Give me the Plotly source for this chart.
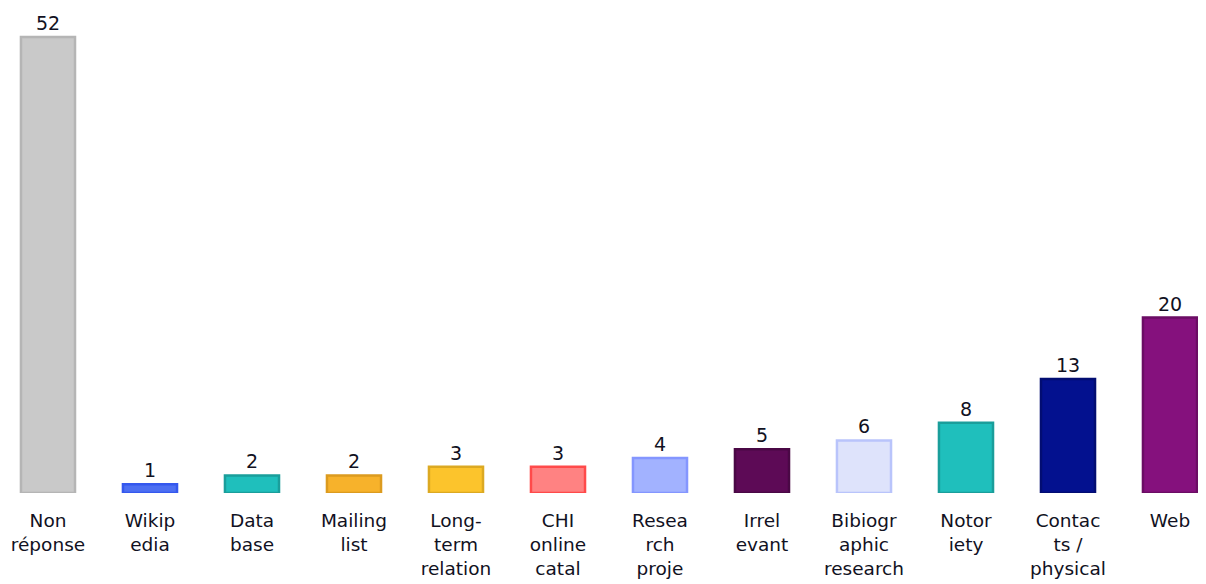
import plotly.graph_objects as go

categories = ["Non<br>réponse", "Wikip<br>edia", "Data<br>base", "Mailing<br>list",
              "Long-<br>term<br>relation", "CHI<br>online<br>catal", "Resea<br>rch<br>proje",
              "Irrel<br>evant", "Bibiogr<br>aphic<br>research", "Notor<br>iety",
              "Contac<br>ts /<br>physical", "Web"]
values = [52, 1, 2, 2, 3, 3, 4, 5, 6, 8, 13, 20]
fill_colors = ["#c9c9c9", "#4d6ff2", "#1fbfbc", "#f7b22b", "#fcc42c", "#ff8282",
               "#a2b2ff", "#5d0a56", "#dee3fb", "#1fbfbc", "#03118f", "#85117d"]
edge_colors = ["#b5b5b5", "#3558ee", "#1a9e9b", "#dc9b1f", "#dca922", "#ff4a4a",
               "#8496ff", "#4a0845", "#b9c4fb", "#1a9e9b", "#020d72", "#6b0d64"]

fig = go.Figure(go.Bar(
    x=categories, y=values,
    marker=dict(color=fill_colors, line=dict(color=edge_colors, width=2.5)),
    width=0.53,
    text=[str(v) for v in values], textposition="outside",
    textfont=dict(family="DejaVu Sans", size=19, color="#111122"),
    cliponaxis=False,
))

fig.update_layout(
    width=1198, height=576,
    margin=dict(l=0, r=0, t=0, b=91, autoexpand=False),
    paper_bgcolor="white", plot_bgcolor="white",
    showlegend=False,
    font=dict(family="DejaVu Sans", size=18, color="#111122"),
    xaxis=dict(range=[-0.392, 11.353], showgrid=False, zeroline=False, showline=False,
               automargin=False,
               ticks="", tickfont=dict(size=18.5, color="#111122"), ticklabelstandoff=14),
    yaxis=dict(range=[0, 55.3], visible=False, showgrid=False, zeroline=False,
               automargin=False),
)

fig.write_html("out.html")
